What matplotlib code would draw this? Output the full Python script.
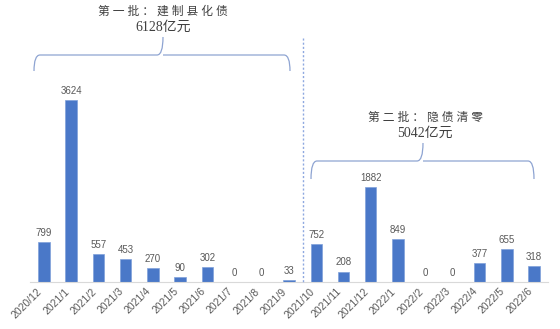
import matplotlib.pyplot as plt
from matplotlib.path import Path
from matplotlib.patches import PathPatch
from matplotlib.transforms import Affine2D

months = ['2020/12', '2021/1', '2021/2', '2021/3', '2021/4', '2021/5', '2021/6',
          '2021/7', '2021/8', '2021/9', '2021/10', '2021/11', '2021/12', '2022/1',
          '2022/2', '2022/3', '2022/4', '2022/5', '2022/6']
amounts = [799, 3624, 557, 453, 270, 90, 302, 0, 0, 33,
           752, 208, 1882, 849, 0, 0, 377, 655, 318]
batch1_title = '第 一 批 ： 建 制 县 化 债'
batch1_total = '6128亿元'
batch2_title = '第 二 批 ： 隐 债 清 零'
batch2_total = '5042亿元'

W, H = 560, 329
fig = plt.figure(figsize=(W / 100, H / 100), dpi=100)
# pixel coords measured from the top-left corner
px = Affine2D().scale(1 / W, -1 / H).translate(0, 1) + fig.transFigure

base_y = 282
ax = fig.add_axes([30 / W, (H - base_y) / H, 518 / W, base_y / H])
ax.set_xlim(-0.514, len(months) - 1 + 0.514)
ax.set_ylim(0, base_y * 3624 / 182)

x = list(range(len(months)))
ax.bar(x, amounts, width=0.42, color='#4A78C8', edgecolor='#7FA0DA', linewidth=0.5)
for xi, v in zip(x, amounts):
    ax.annotate(str(v), (xi, v), xytext=(0, 3), textcoords='offset points',
                ha='center', va='bottom', fontsize=7, color='#595959',
                family=['Liberation Sans', 'DejaVu Sans'])

for s in ['top', 'right', 'left']:
    ax.spines[s].set_visible(False)
ax.spines['bottom'].set_color('#D9D9D9')
ax.set_yticks([])
ax.set_xticks(x)
ax.set_xticklabels(months, rotation=45, ha='right', fontsize=7.5, color='#595959',
                   family=['Liberation Sans', 'DejaVu Sans'])
ax.tick_params(axis='x', length=0, pad=3)

# separator between the two batches
fig.add_artist(plt.Line2D([302.5, 302.5], [38, base_y], transform=px,
                          color='#8EA8E0', linestyle=(0, (1.5, 1.5)), linewidth=1.0))


def brace(x0, x1, y_end, y_bar, y_tip, xc):
    r = 6
    verts = [(x0, y_end), (x0, y_bar), (x0 + r, y_bar),
             (xc - r, y_bar), (xc, y_bar), (xc, y_tip),
             (xc, y_bar), (xc + r, y_bar),
             (x1 - r, y_bar), (x1, y_bar), (x1, y_end)]
    codes = [Path.MOVETO, Path.CURVE3, Path.CURVE3,
             Path.LINETO, Path.CURVE3, Path.CURVE3,
             Path.MOVETO, Path.LINETO,
             Path.LINETO, Path.CURVE3, Path.CURVE3]
    fig.add_artist(PathPatch(Path(verts, codes), transform=px, fill=False,
                             edgecolor='#8EA4D2', linewidth=0.9))


brace(34, 290, 71, 55, 37, 163)
brace(311, 534, 179, 161, 143, 423)

title_font = ['Liberation Serif', 'Noto Sans CJK SC']
fig.text(163 / W, 1 - 12 / H, batch1_title, ha='center', va='center',
         fontsize=8.5, color='#404040', family=title_font)
fig.text(163 / W, 1 - 27 / H, batch1_total, ha='center', va='center',
         fontsize=10, color='#404040', family=title_font)
fig.text(425 / W, 1 - 118 / H, batch2_title, ha='center', va='center',
         fontsize=8.5, color='#404040', family=title_font)
fig.text(425 / W, 1 - 133 / H, batch2_total, ha='center', va='center',
         fontsize=10, color='#404040', family=title_font)

fig.savefig('out.png', dpi=100, facecolor='white')
